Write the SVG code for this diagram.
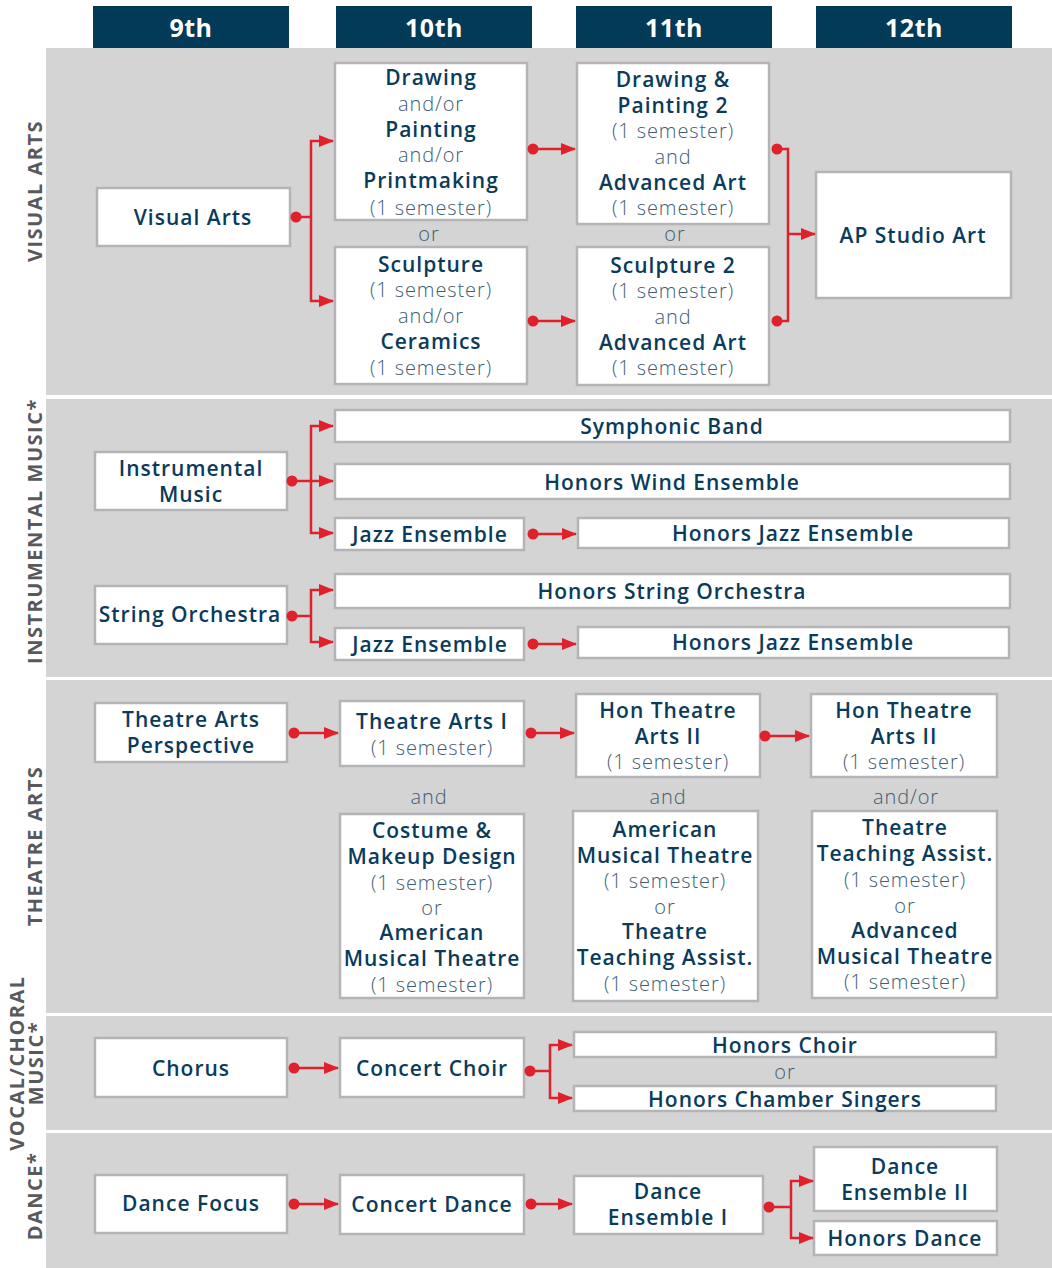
<svg xmlns="http://www.w3.org/2000/svg" width="1052" height="1268" viewBox="0 0 1052 1268">
<style>
.band{fill:#d4d4d4}
.hdr{fill:#033a58}
.ht{fill:#fff;font-family:"Open Sans","Liberation Sans",sans-serif;font-weight:700;font-size:25px;letter-spacing:0.5px;text-anchor:middle;dominant-baseline:central}
.box{fill:#fff;stroke:#b4b4b8;stroke-width:2.5}
.b{fill:#0b3b5b;font-family:"Open Sans","Liberation Sans",sans-serif;font-weight:600;font-size:21px;letter-spacing:1px;text-anchor:middle;dominant-baseline:central}
.l{fill:#3e5d73;font-family:"Open Sans","Liberation Sans",sans-serif;font-weight:300;font-size:20px;letter-spacing:0.9px;text-anchor:middle;dominant-baseline:central}
.side{fill:#58595b;font-family:"Open Sans","Liberation Sans",sans-serif;font-weight:700;font-size:20px;letter-spacing:1.5px;text-anchor:middle;dominant-baseline:central}
.c{fill:none;stroke:#e0202a;stroke-width:2.5}
.a{marker-end:url(#arr)}
.d{marker-start:url(#dot)}
</style>
<defs>
<marker id="arr" markerUnits="userSpaceOnUse" markerWidth="16" markerHeight="14" refX="14" refY="6" orient="auto"><path d="M0,0 L15,6 L0,12 z" fill="#e0202a"/></marker>
<marker id="dot" markerUnits="userSpaceOnUse" markerWidth="12" markerHeight="12" refX="6" refY="6" orient="auto"><circle cx="6" cy="6" r="5.5" fill="#e0202a"/></marker>
</defs>
<rect width="1052" height="1268" fill="#fff"/>
<g id="bands">
<rect class="band" x="46" y="48" width="1006" height="347"/>
<rect class="band" x="46" y="399" width="1006" height="278"/>
<rect class="band" x="46" y="680" width="1006" height="333"/>
<rect class="band" x="46" y="1016" width="1006" height="114"/>
<rect class="band" x="46" y="1133" width="1006" height="135"/>
</g>
<g id="headers">
<rect class="hdr" x="93" y="6" width="196" height="42"/><text class="ht" x="191" y="27">9th</text>
<rect class="hdr" x="336" y="6" width="196" height="42"/><text class="ht" x="434" y="27">10th</text>
<rect class="hdr" x="576" y="6" width="196" height="42"/><text class="ht" x="674" y="27">11th</text>
<rect class="hdr" x="816" y="6" width="196" height="42"/><text class="ht" x="914" y="27">12th</text>
</g>
<g id="side-labels">
<text class="side" transform="translate(34,191) rotate(-90)">VISUAL ARTS</text>
<text class="side" transform="translate(34,531) rotate(-90)">INSTRUMENTAL MUSIC*</text>
<text class="side" transform="translate(34,846) rotate(-90)">THEATRE ARTS</text>
<text class="side" transform="translate(16,1063) rotate(-90)">VOCAL/CHORAL</text>
<text class="side" transform="translate(35,1063) rotate(-90)">MUSIC*</text>
<text class="side" transform="translate(34,1196) rotate(-90)">DANCE*</text>
</g>
<g id="visual-arts"><rect class="box" x="97" y="188" width="193" height="58"/><text class="b" x="193" y="217">Visual Arts</text></g>
<g id="drawing"><rect class="box" x="335" y="63" width="192" height="157"/>
<text class="b" x="431" y="77">Drawing</text><text class="l" x="431" y="103">and/or</text><text class="b" x="431" y="129">Painting</text><text class="l" x="431" y="154">and/or</text><text class="b" x="431" y="180">Printmaking</text><text class="l" x="431" y="207">(1 semester)</text></g>
<text class="l" x="429" y="233">or</text>
<g id="sculpture"><rect class="box" x="335" y="247" width="192" height="137"/>
<text class="b" x="431" y="264">Sculpture</text><text class="l" x="431" y="289">(1 semester)</text><text class="l" x="431" y="315">and/or</text><text class="b" x="431" y="341">Ceramics</text><text class="l" x="431" y="367">(1 semester)</text></g>
<g id="drawing-painting-2"><rect class="box" x="577" y="63" width="192" height="161"/>
<text class="b" x="673" y="79">Drawing &amp;</text><text class="b" x="673" y="105">Painting 2</text><text class="l" x="673" y="130">(1 semester)</text><text class="l" x="673" y="156">and</text><text class="b" x="673" y="182">Advanced Art</text><text class="l" x="673" y="207">(1 semester)</text></g>
<text class="l" x="675" y="233">or</text>
<g id="sculpture-2"><rect class="box" x="577" y="247" width="192" height="138"/>
<text class="b" x="673" y="265">Sculpture 2</text><text class="l" x="673" y="290">(1 semester)</text><text class="l" x="673" y="316">and</text><text class="b" x="673" y="342">Advanced Art</text><text class="l" x="673" y="367">(1 semester)</text></g>
<g id="ap-studio-art"><rect class="box" x="816" y="172" width="195" height="126"/><text class="b" x="913" y="235">AP Studio Art</text></g>
<g id="instrumental-music"><rect class="box" x="95" y="452" width="192" height="58"/><text class="b" x="191" y="468">Instrumental</text><text class="b" x="191" y="494">Music</text></g>
<g id="symphonic-band"><rect class="box" x="335" y="410" width="675" height="32"/><text class="b" x="672" y="426">Symphonic Band</text></g>
<g id="honors-wind"><rect class="box" x="335" y="464" width="675" height="35"/><text class="b" x="672" y="482">Honors Wind Ensemble</text></g>
<g id="jazz-1"><rect class="box" x="335" y="518" width="189" height="32"/><text class="b" x="430" y="534">Jazz Ensemble</text></g>
<g id="honors-jazz-1"><rect class="box" x="578" y="518" width="431" height="30"/><text class="b" x="793" y="533">Honors Jazz Ensemble</text></g>
<g id="string-orchestra"><rect class="box" x="95" y="586" width="192" height="58"/><text class="b" x="190" y="614">String Orchestra</text></g>
<g id="honors-string"><rect class="box" x="335" y="574" width="675" height="34"/><text class="b" x="672" y="591">Honors String Orchestra</text></g>
<g id="jazz-2"><rect class="box" x="335" y="628" width="189" height="32"/><text class="b" x="430" y="644">Jazz Ensemble</text></g>
<g id="honors-jazz-2"><rect class="box" x="578" y="627" width="431" height="31"/><text class="b" x="793" y="642">Honors Jazz Ensemble</text></g>
<g id="theatre-perspective"><rect class="box" x="95" y="703" width="192" height="59"/><text class="b" x="191" y="719">Theatre Arts</text><text class="b" x="191" y="745">Perspective</text></g>
<g id="theatre-arts-1"><rect class="box" x="340" y="701" width="184" height="65"/><text class="b" x="432" y="721">Theatre Arts I</text><text class="l" x="432" y="747">(1 semester)</text></g>
<g id="hon-theatre-11"><rect class="box" x="576" y="694" width="184" height="83"/><text class="b" x="668" y="710">Hon Theatre</text><text class="b" x="668" y="736">Arts II</text><text class="l" x="668" y="761">(1 semester)</text></g>
<g id="hon-theatre-12"><rect class="box" x="811" y="694" width="186" height="83"/><text class="b" x="904" y="710">Hon Theatre</text><text class="b" x="904" y="736">Arts II</text><text class="l" x="904" y="761">(1 semester)</text></g>
<text class="l" x="429" y="796">and</text>
<text class="l" x="668" y="796">and</text>
<text class="l" x="906" y="796">and/or</text>
<g id="costume"><rect class="box" x="340" y="814" width="184" height="184"/>
<text class="b" x="432" y="830">Costume &amp;</text><text class="b" x="432" y="856">Makeup Design</text><text class="l" x="432" y="882">(1 semester)</text><text class="l" x="432" y="907">or</text><text class="b" x="432" y="932">American</text><text class="b" x="432" y="958">Musical Theatre</text><text class="l" x="432" y="984">(1 semester)</text></g>
<g id="american-musical"><rect class="box" x="573" y="811" width="185" height="190"/>
<text class="b" x="665" y="829">American</text><text class="b" x="665" y="855">Musical Theatre</text><text class="l" x="665" y="880">(1 semester)</text><text class="l" x="665" y="906">or</text><text class="b" x="665" y="931">Theatre</text><text class="b" x="665" y="957">Teaching Assist.</text><text class="l" x="665" y="983">(1 semester)</text></g>
<g id="teaching-assist"><rect class="box" x="812" y="811" width="185" height="187"/>
<text class="b" x="905" y="827">Theatre</text><text class="b" x="905" y="853">Teaching Assist.</text><text class="l" x="905" y="879">(1 semester)</text><text class="l" x="905" y="905">or</text><text class="b" x="905" y="930">Advanced</text><text class="b" x="905" y="956">Musical Theatre</text><text class="l" x="905" y="981">(1 semester)</text></g>
<g id="chorus"><rect class="box" x="95" y="1038" width="192" height="59"/><text class="b" x="191" y="1068">Chorus</text></g>
<g id="concert-choir"><rect class="box" x="340" y="1038" width="184" height="59"/><text class="b" x="432" y="1068">Concert Choir</text></g>
<g id="honors-choir"><rect class="box" x="574" y="1032" width="422" height="25"/><text class="b" x="785" y="1045">Honors Choir</text></g>
<text class="l" x="785" y="1071">or</text>
<g id="honors-chamber"><rect class="box" x="574" y="1086" width="422" height="25"/><text class="b" x="785" y="1099">Honors Chamber Singers</text></g>
<g id="dance-focus"><rect class="box" x="95" y="1175" width="192" height="58"/><text class="b" x="191" y="1203">Dance Focus</text></g>
<g id="concert-dance"><rect class="box" x="340" y="1175" width="184" height="59"/><text class="b" x="432" y="1204">Concert Dance</text></g>
<g id="dance-ensemble-1"><rect class="box" x="574" y="1176" width="189" height="58"/><text class="b" x="668" y="1191">Dance</text><text class="b" x="668" y="1217">Ensemble I</text></g>
<g id="dance-ensemble-2"><rect class="box" x="814" y="1147" width="183" height="64"/><text class="b" x="905" y="1166">Dance</text><text class="b" x="905" y="1192">Ensemble II</text></g>
<g id="honors-dance"><rect class="box" x="814" y="1221" width="183" height="34"/><text class="b" x="905" y="1238">Honors Dance</text></g>
<g id="connectors">
<path class="c d" d="M296,217 H311"/>
<path class="c a" d="M311,217 V141 H333"/>
<path class="c a" d="M311,217 V301 H333"/>
<path class="c d a" d="M533,149 H575"/>
<path class="c d a" d="M533,321 H575"/>
<path class="c d" d="M777,149 H788 V321 H777"/>
<circle cx="777" cy="321" r="5.5" fill="#e0202a"/>
<path class="c a" d="M788,234 H815"/>
<path class="c d" d="M292,481 H311"/>
<path class="c a" d="M311,481 V426 H333"/>
<path class="c a" d="M311,481 H333"/>
<path class="c a" d="M311,481 V533 H333"/>
<path class="c d a" d="M533,534 H576"/>
<path class="c d" d="M292,616 H311"/>
<path class="c a" d="M311,616 V590 H333"/>
<path class="c a" d="M311,616 V642 H333"/>
<path class="c d a" d="M533,644 H576"/>
<path class="c d a" d="M294,733 H338"/>
<path class="c d a" d="M531,733 H574"/>
<path class="c d a" d="M765,736 H809"/>
<path class="c d a" d="M294,1068 H338"/>
<path class="c d" d="M530,1071 H550"/>
<path class="c a" d="M550,1071 V1045 H572"/>
<path class="c a" d="M550,1071 V1098 H572"/>
<path class="c d a" d="M294,1204 H338"/>
<path class="c d a" d="M531,1204 H572"/>
<path class="c d" d="M769,1207 H791"/>
<path class="c a" d="M791,1207 V1181 H813"/>
<path class="c a" d="M791,1207 V1238 H813"/>
</g>
</svg>
